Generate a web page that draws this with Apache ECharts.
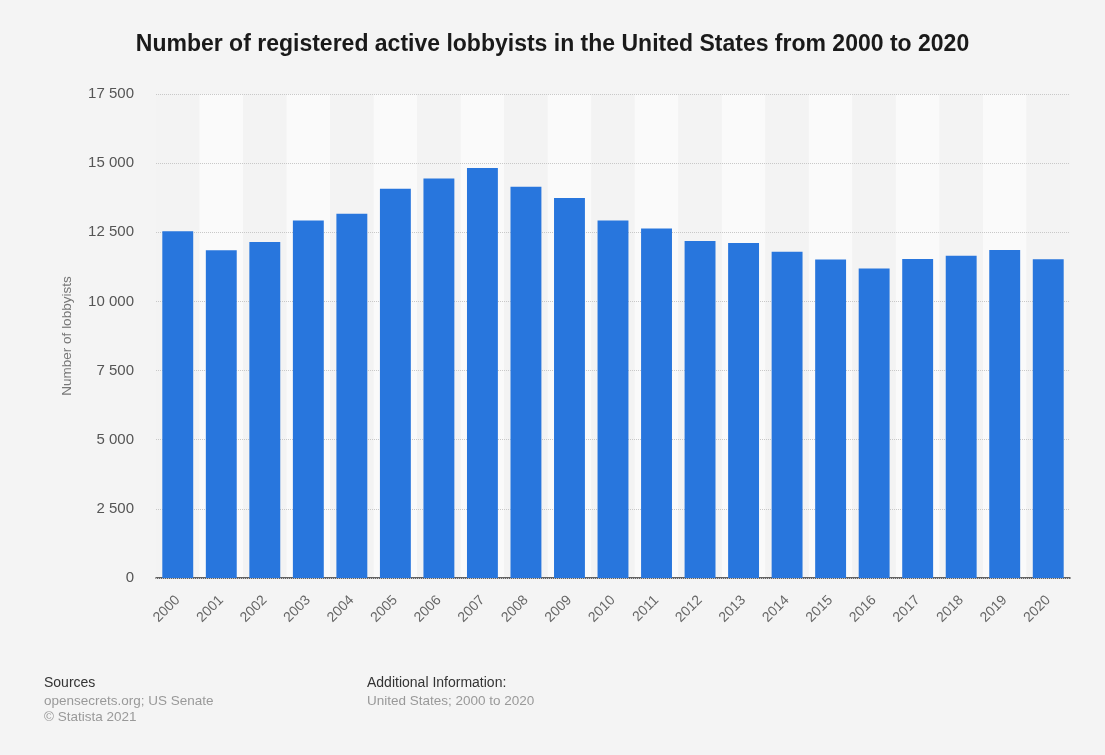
<!DOCTYPE html>
<html>
<head>
<meta charset="utf-8">
<style>
  html, body { margin: 0; padding: 0; background: #f4f4f4; }
  #chart { width: 1105px; height: 755px; }
</style>
<script src="https://cdn.jsdelivr.net/npm/echarts@6/dist/echarts.min.js"></script>
</head>
<body>
<div id="chart"></div>
<script>
// data
var years = ['2000','2001','2002','2003','2004','2005','2006','2007','2008','2009','2010',
             '2011','2012','2013','2014','2015','2016','2017','2018','2019','2020'];
var lobbyists = [12536, 11846, 12146, 12929, 13169, 14073, 14445, 14822, 14149, 13742, 12922,
                 12633, 12183, 12112, 11800, 11513, 11189, 11535, 11651, 11862, 11523];
var yTicks = [0, 2500, 5000, 7500, 10000, 12500, 15000, 17500];

var fontFam = '"Liberation Sans", Arial, sans-serif';

var myChart = echarts.init(document.getElementById('chart'));
var option = {
    backgroundColor: '#f4f4f4',
    animation: false,
    title: {
        text: 'Number of registered active lobbyists in the United States from 2000 to 2020',
        left: 'center',
        top: 28,
        textStyle: { fontFamily: fontFam, fontSize: 23, fontWeight: 'bold', color: '#1a1a1a' }
    },
    grid: { left: 156, right: 35, top: 94, bottom: 177 },
    xAxis: {
        type: 'category',
        data: years,
        z: 0,
        axisTick: { show: false },
        axisLine: { lineStyle: { color: '#333', width: 1.5 } },
        axisLabel: { rotate: 45, color: '#666', fontFamily: fontFam, fontSize: 14, margin: 20 },
        splitArea: { show: true, areaStyle: { color: ['#f3f3f3', '#fafafa'] } }
    },
    yAxis: {
        type: 'value',
        z: 1,
        min: yTicks[0],
        max: yTicks[yTicks.length - 1],
        interval: 2500,
        name: 'Number of lobbyists',
        nameLocation: 'middle',
        nameGap: 82,
        nameTextStyle: { color: '#777', fontFamily: fontFam, fontSize: 13.5 },
        axisLine: { show: false },
        axisTick: { show: false },
        axisLabel: {
            color: '#555', fontFamily: fontFam, fontSize: 15, margin: 22,
            formatter: function (v) { return String(v).replace(/\B(?=(\d{3})+(?!\d))/g, ' '); }
        },
        splitLine: { show: true, lineStyle: { color: '#c8c8c8', type: 'dotted' } }
    },
    series: [{
        type: 'bar',
        data: lobbyists,
        z: 3,
        barCategoryGap: '29%',
        itemStyle: { color: '#2876dd' }
    }],
    graphic: [
        { type: 'text', left: 44, top: 676, style: { text: 'Sources', fill: '#333', font: '14px ' + fontFam } },
        { type: 'text', left: 44, top: 694, style: { text: 'opensecrets.org; US Senate', fill: '#999', font: '13.5px ' + fontFam } },
        { type: 'text', left: 44, top: 710, style: { text: '\u00a9 Statista 2021', fill: '#999', font: '13.5px ' + fontFam } },
        { type: 'text', left: 367, top: 676, style: { text: 'Additional Information:', fill: '#333', font: '14px ' + fontFam } },
        { type: 'text', left: 367, top: 694, style: { text: 'United States; 2000 to 2020', fill: '#999', font: '13.5px ' + fontFam } }
    ]
};
myChart.setOption(option);
</script>
</body>
</html>
